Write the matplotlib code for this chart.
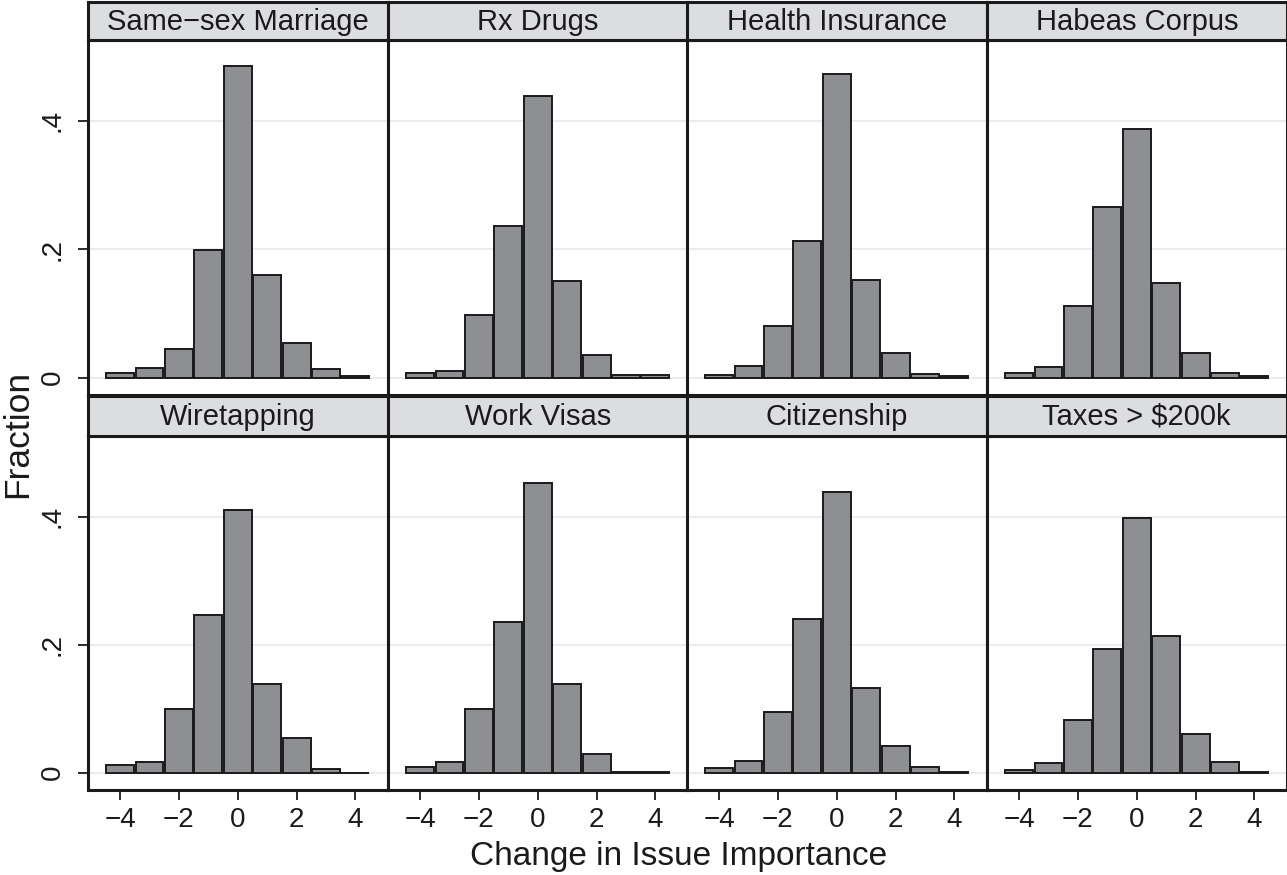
import matplotlib
matplotlib.use("Agg")
import matplotlib.pyplot as plt
import numpy as np

plt.rcParams['font.family'] = ['Liberation Sans', 'DejaVu Sans']

titles = ["Same\u2212sex Marriage", "Rx Drugs", "Health Insurance", "Habeas Corpus",
          "Wiretapping", "Work Visas", "Citizenship", "Taxes > $200k"]
bins = [-4, -3, -2, -1, 0, 1, 2, 3, 4]

same_sex = [0.008, 0.015, 0.045, 0.199, 0.486, 0.160, 0.054, 0.013, 0.003]
rx_drugs = [0.008, 0.010, 0.097, 0.236, 0.439, 0.151, 0.035, 0.004, 0.004]
health = [0.004, 0.018, 0.081, 0.213, 0.473, 0.152, 0.038, 0.006, 0.002]
habeas = [0.008, 0.016, 0.112, 0.266, 0.388, 0.148, 0.038, 0.008, 0.002]
wiretap = [0.012, 0.016, 0.099, 0.247, 0.411, 0.139, 0.054, 0.006, 0.0]
work_visas = [0.009, 0.017, 0.100, 0.235, 0.453, 0.138, 0.029, 0.001, 0.001]
citizenship = [0.007, 0.018, 0.095, 0.240, 0.439, 0.133, 0.042, 0.009, 0.001]
taxes = [0.004, 0.015, 0.082, 0.194, 0.398, 0.213, 0.061, 0.017, 0.001]

series = [same_sex, rx_drugs, health, habeas, wiretap, work_visas, citizenship, taxes]

W, H = 1287, 875
fig = plt.figure(figsize=(W / 100, H / 100), dpi=100)

col_left = [88, 388, 687, 987]
col_w = 299.5
rows = [  # (axes top, axes bottom, header top)
    (40, 395, 2),
    (436, 790, 396),
]

frame_lw = 2.2
for i, (title, vals) in enumerate(zip(titles, series)):
    r, c = divmod(i, 4)
    top, bot, htop = rows[r]
    left = col_left[c]
    ax = fig.add_axes([left / W, 1 - bot / H, col_w / W, (bot - top) / H])
    hax = fig.add_axes([left / W, 1 - top / H, col_w / W, (top - htop) / H])

    ax.bar(bins, vals, width=0.95, color='#8e8f93', edgecolor='#1a1a1a',
           linewidth=1.4, zorder=3)
    ax.set_xlim(-5.09, 5.09)
    ax.set_ylim(-0.027, 0.526)
    ax.set_yticks([0, 0.2, 0.4])
    ax.set_xticks([-4, -2, 0, 2, 4])
    ax.grid(axis='y', color='#ebebeb', linewidth=1.3, zorder=0)
    for s in ax.spines.values():
        s.set_linewidth(frame_lw)
        s.set_color('#1a1a1a')
    ax.tick_params(axis='both', direction='out', length=7, width=1.3,
                   color='#1a1a1a', labelsize=20, labelcolor='#1a1a1a')
    if c == 0:
        ax.set_yticklabels(['0', '.2', '.4'], rotation=90, va='center')
        ax.tick_params(axis='y', pad=9)
    else:
        ax.tick_params(axis='y', left=False, labelleft=False)
    if r == 1:
        ax.set_xticklabels(['\u22124', '\u22122', '0', '2', '4'])
        ax.tick_params(axis='x', pad=5)
    else:
        ax.tick_params(axis='x', bottom=False, labelbottom=False)

    hax.set_facecolor('#dcdde0')
    hax.set_xticks([])
    hax.set_yticks([])
    for s in hax.spines.values():
        s.set_linewidth(frame_lw)
        s.set_color('#1a1a1a')
    hax.text(0.5, 0.48, title, ha='center', va='center', fontsize=21,
             color='#1a1a1a', transform=hax.transAxes)

fig.text(679 / W, 1 - 856 / H, 'Change in Issue Importance', ha='center', va='center',
         fontsize=24, color='#1a1a1a')
fig.text(18 / W, 1 - 434 / H, 'Fraction', ha='center', va='center', rotation=90,
         fontsize=25.5, color='#1a1a1a')

fig.savefig('out.png', dpi=100, facecolor='white')
